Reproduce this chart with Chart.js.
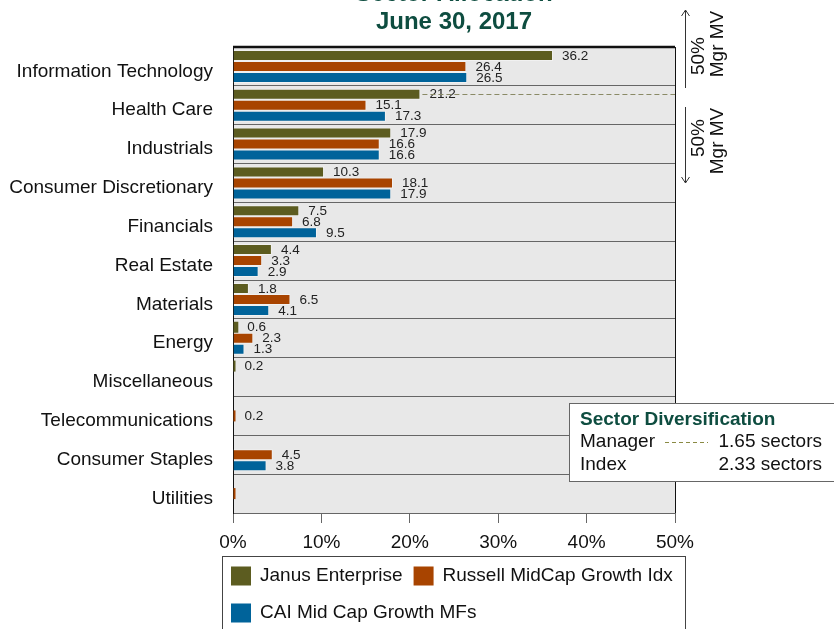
<!DOCTYPE html>
<html>
<head>
<meta charset="utf-8">
<script src="https://cdn.jsdelivr.net/npm/chart.js@4/dist/chart.umd.min.js"></script>
<style>
  html, body { margin: 0; padding: 0; background: #fff; }
  #wrap { position: relative; width: 834px; height: 629px; }
</style>
</head>
<body>
<div id="wrap"><canvas id="sectorChart" width="834" height="629"></canvas></div>
<script>
// --- data ---
const categories = ['Information Technology', 'Health Care', 'Industrials', 'Consumer Discretionary',
  'Financials', 'Real Estate', 'Materials', 'Energy', 'Miscellaneous', 'Telecommunications',
  'Consumer Staples', 'Utilities'];
const janusValues   = [36.2, 21.2, 17.9, 10.3, 7.5, 4.4, 1.8, 0.6, 0.2, null, null, null];
const russellValues = [26.4, 15.1, 16.6, 18.1, 6.8, 3.3, 6.5, 2.3, null, 0.2, 4.5, 0.04];
const caiValues     = [26.5, 17.3, 16.6, 17.9, 9.5, 2.9, 4.1, 1.3, null, null, 3.8, null];
const seriesNames = ['Janus Enterprise', 'Russell MidCap Growth Idx', 'CAI Mid Cap Growth MFs'];
const xTicks = [0, 10, 20, 30, 40, 50];
const diversification = [['Manager', '1.65 sectors'], ['Index', '2.33 sectors']];

const colors = ['#5c5c20', '#a84400', '#00639a'];
const green = '#0e4d40';
const FONT = 'Arial, "Liberation Sans", sans-serif';

// fond gris + bordures + annotations
const decorPlugin = {
  id: 'decor',
  beforeDraw(chart) {
    const { ctx, chartArea: a } = chart;
    ctx.save();
    ctx.fillStyle = '#e8e8e8';
    ctx.fillRect(a.left, a.top, a.right - a.left, a.bottom - a.top);
    ctx.restore();
  },
  afterDatasetsDraw(chart) {
    const { ctx, chartArea: a } = chart;
    ctx.save();

    // étiquettes de valeur
    ctx.font = '13.5px ' + FONT;
    ctx.fillStyle = '#222';
    ctx.textBaseline = 'middle';
    ctx.textAlign = 'left';
    chart.data.datasets.forEach((ds, i) => {
      chart.getDatasetMeta(i).data.forEach((bar, j) => {
        const v = ds.data[j];
        if (v == null || v.toFixed(1) === '0.0') return;
        ctx.fillText(v.toFixed(1), Math.max(bar.x, a.left + 2) + 9, bar.y + 0.5);
      });
    });

    // ligne pointillée 50% manager
    const hc = chart.getDatasetMeta(0).data[1];
    ctx.strokeStyle = '#8a8a66';
    ctx.lineWidth = 1;
    ctx.setLineDash([5, 3]);
    ctx.beginPath();
    ctx.moveTo(hc.x + 2, Math.round(hc.y) + 0.5);
    ctx.lineTo(a.right, Math.round(hc.y) + 0.5);
    ctx.stroke();
    ctx.setLineDash([]);

    // bord haut épais + bord droit
    ctx.strokeStyle = '#111';
    ctx.lineWidth = 2.5;
    ctx.beginPath();
    ctx.moveTo(a.left, a.top);
    ctx.lineTo(a.right, a.top);
    ctx.stroke();
    ctx.lineWidth = 1;
    ctx.beginPath();
    ctx.moveTo(a.right + 0.5, a.top);
    ctx.lineTo(a.right + 0.5, a.bottom);
    ctx.stroke();

    // titre
    ctx.fillStyle = green;
    ctx.font = 'bold 24px ' + FONT;
    ctx.textAlign = 'center';
    ctx.textBaseline = 'alphabetic';
    const cx = (a.left + a.right) / 2;
    ctx.fillText('Sector Allocation', cx, 0.5);
    ctx.fillText('June 30, 2017', cx, 29);

    // flèches 50% Mgr MV
    ctx.strokeStyle = '#333';
    ctx.lineWidth = 1;
    const ax = 685.5;
    ctx.beginPath();
    ctx.moveTo(ax, 10); ctx.lineTo(ax, 88);
    ctx.moveTo(ax - 4, 16); ctx.lineTo(ax, 10); ctx.lineTo(ax + 4, 16);
    ctx.moveTo(ax, 107); ctx.lineTo(ax, 183);
    ctx.moveTo(ax - 4, 177); ctx.lineTo(ax, 183); ctx.lineTo(ax + 4, 177);
    ctx.stroke();

    ctx.fillStyle = '#111';
    ctx.font = '19px ' + FONT;
    ctx.textAlign = 'center';
    ctx.textBaseline = 'middle';
    const rot = (t, px, py) => {
      ctx.save();
      ctx.translate(px, py);
      ctx.rotate(-Math.PI / 2);
      ctx.fillText(t, 0, 0);
      ctx.restore();
    };
    rot('50%', 699, 56);
    rot('Mgr MV', 718, 44);
    rot('50%', 699, 138);
    rot('Mgr MV', 718, 141);

    // encadré diversification
    ctx.fillStyle = '#fff';
    ctx.fillRect(569, 403, 270, 78);
    ctx.strokeStyle = '#666';
    ctx.strokeRect(569.5, 403.5, 270, 78);
    ctx.textAlign = 'left';
    ctx.fillStyle = green;
    ctx.font = 'bold 19px ' + FONT;
    ctx.fillText('Sector Diversification', 580, 420);
    ctx.font = '19px ' + FONT;
    diversification.forEach((row, i) => {
      const y = 442 + i * 23;
      ctx.fillStyle = '#111';
      ctx.textAlign = 'left';
      ctx.fillText(row[0], 580, y);
      ctx.textAlign = 'right';
      ctx.fillText(row[1], 822, y);
    });
    ctx.strokeStyle = '#8a8a44';
    ctx.setLineDash([4, 3]);
    ctx.beginPath();
    ctx.moveTo(665, 442.5); ctx.lineTo(708, 442.5);
    ctx.stroke();
    ctx.setLineDash([]);

    // légende
    ctx.strokeStyle = '#444';
    ctx.strokeRect(222.5, 556.5, 463, 80);
    ctx.font = '19px ' + FONT;
    ctx.textAlign = 'left';
    let lx = 231, ly = 576;
    chart.data.datasets.forEach((ds) => {
      const w = 20 + 9 + ctx.measureText(ds.label).width;
      if (lx + w > 684) { lx = 231; ly += 37; }
      ctx.fillStyle = ds.backgroundColor;
      ctx.fillRect(lx, ly - 9.5, 20, 19);
      ctx.fillStyle = '#111';
      ctx.fillText(ds.label, lx + 29, ly);
      lx += w + 11;
    });

    ctx.restore();
  }
};

const datasets = [janusValues, russellValues, caiValues].map((vals, i) => ({
  label: seriesNames[i],
  data: vals,
  backgroundColor: colors[i],
  borderColor: 'rgba(255,255,255,0.4)',
  borderWidth: (c) => (c.raw != null && c.raw < 1 ? 0 : 1),
  borderSkipped: 'start',
  minBarLength: 2.5,
  barPercentage: 1,
  categoryPercentage: 0.85
}));

new Chart(document.getElementById('sectorChart'), {
  type: 'bar',
  data: { labels: categories, datasets },
  options: {
    indexAxis: 'y',
    responsive: false,
    animation: false,
    layout: { padding: { top: 47, right: 159, left: 0, bottom: 0 } },
    plugins: { legend: { display: false }, title: { display: false }, tooltip: { enabled: false } },
    scales: {
      x: {
        min: 0, max: 50,
        afterFit: (s) => { s.height = 116; },
        afterBuildTicks: (s) => { s.ticks = xTicks.map(v => ({ value: v })); },
        ticks: { callback: (v) => v + '%', color: '#111', font: { size: 19, family: FONT }, padding: 8, maxRotation: 0 },
        grid: { drawOnChartArea: false, drawTicks: true, tickLength: 10, color: '#666' },
        border: { color: '#666' }
      },
      y: {
        afterFit: (s) => { s.width = 233; },
        ticks: { color: '#111', font: { size: 19, family: FONT }, padding: 20, labelOffset: 5 },
        grid: { offset: true, drawTicks: false, color: '#666', lineWidth: 1 },
        border: { color: '#111', width: 1 }
      }
    }
  },
  plugins: [decorPlugin]
});
</script>
</body>
</html>
